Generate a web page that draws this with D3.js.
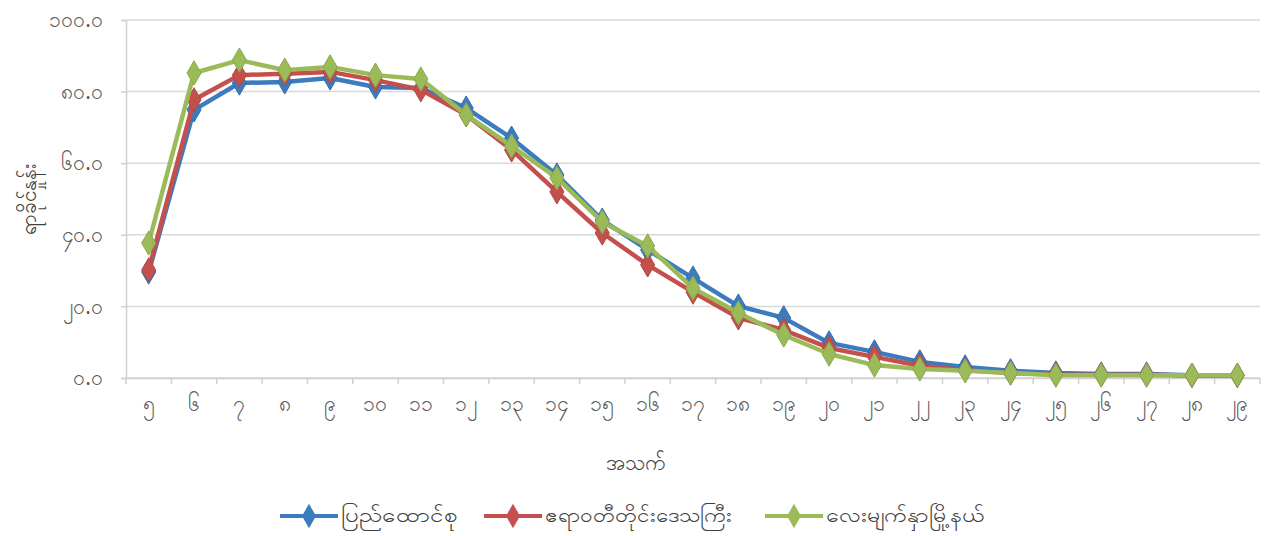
<!DOCTYPE html>
<html><head><meta charset="utf-8">
<script src="https://cdn.jsdelivr.net/npm/d3@7"></script>
<style>body{margin:0;background:#fff;} text{font-family:"Noto Sans","DejaVu Sans",sans-serif;}</style>
</head><body><svg id="c" width="1268" height="536"></svg>
<script>
const categories = ["၅","၆","၇","၈","၉","၁၀","၁၁","၁၂","၁၃","၁၄","၁၅","၁၆","၁၇","၁၈","၁၉","၂၀","၂၁","၂၂","၂၃","၂၄","၂၅","၂၆","၂၇","၂၈","၂၉"];
const seriesNames = ["ပြည်ထောင်စု","ဧရာဝတီတိုင်းဒေသကြီး","လေးမျက်နှာမြို့နယ်"];
const unionValues = [29.6,74.9,82.4,82.7,83.8,81.3,81.0,75.4,67.0,56.7,44.1,35.8,27.9,20.1,16.8,9.8,7.3,4.5,3.1,2.0,1.4,1.1,1.1,0.8,0.8];
const ayeyarwadyValues = [30.2,77.7,84.6,85.0,85.5,83.2,80.5,73.5,63.7,52.0,40.5,31.6,24.0,16.8,13.4,8.4,5.9,3.4,2.2,1.4,1.0,0.9,0.9,0.7,0.7];
const lemyethnaValues = [37.7,85.2,88.8,86.0,86.9,84.6,83.5,73.5,64.8,55.9,43.6,36.9,25.1,18.2,12.0,6.7,3.6,2.5,2.0,1.4,0.8,0.8,0.8,0.8,0.8];
const yTickValues = [0,20,40,60,80,100];
const yTickLabels = ["၀.၀","၂၀.၀","၄၀.၀","၆၀.၀","၈၀.၀","၁၀၀.၀"];
const xTitle = "အသက်";
const yTitle = "ရာခိုင်နှုန်း";
const colors = ["#3B7BBE","#C4504D","#9BBB59"];

const svg = d3.select("#c");
const m = {l:126, r:8, t:20, b:158};
const W = 1268, H = 536;
const x = d3.scaleBand().domain(categories).range([m.l, W - m.r]);
const y = d3.scaleLinear().domain([0,100]).range([H - m.b, m.t]);

// gridlines
svg.append("g").selectAll("line").data(yTickValues).join("line")
  .attr("x1", m.l).attr("x2", W - m.r)
  .attr("y1", d => y(d)).attr("y2", d => y(d))
  .attr("stroke", "#d9d9d9").attr("stroke-width", 1.5);

// y axis
const yAxis = d3.axisLeft(y).tickValues(yTickValues).tickSize(5).tickPadding(18)
  .tickFormat((d,i) => yTickLabels[i]);
const gy = svg.append("g").attr("transform", `translate(${m.l},0)`).call(yAxis);
gy.select(".domain").attr("stroke", "#d0d0d0").attr("stroke-width",1.5);
gy.selectAll(".tick line").attr("stroke", "#d0d0d0").attr("stroke-width",1.5);
gy.selectAll(".tick text").attr("fill", "#595959").style("font-size", "21px");

// x axis
const gx = svg.append("g").attr("transform", `translate(0,${y(0)})`)
  .call(d3.axisBottom(x).tickSize(0).tickPadding(18));
gx.select(".domain").attr("stroke", "#d0d0d0").attr("stroke-width",1.5);
gx.selectAll(".tick text").attr("fill", "#595959").style("font-size", "21px");
// tick marks between categories
const bounds = categories.map(c => x(c)).concat([x(categories[categories.length-1]) + x.bandwidth()]);
svg.append("g").selectAll("line").data(bounds).join("line")
  .attr("x1", d => d).attr("x2", d => d)
  .attr("y1", y(0)).attr("y2", y(0) + 6)
  .attr("stroke", "#d0d0d0").attr("stroke-width", 1.5);

// titles
svg.append("text").attr("x", 636).attr("y", 470)
  .attr("text-anchor","middle").attr("fill","#404040").style("font-size","21px").text(xTitle);
svg.append("text").attr("transform", `translate(36,${(m.t + H - m.b)/2}) rotate(-90)`)
  .attr("text-anchor","middle").attr("fill","#404040").style("font-size","21px").text(yTitle);

// series
const allSeries = [unionValues, ayeyarwadyValues, lemyethnaValues];
const line = d3.line().x((d,i) => x(categories[i]) + x.bandwidth()/2).y(d => y(d));
const diamond = d3.symbol().type(d3.symbolDiamond).size(170);
allSeries.forEach((vals, si) => {
  const g = svg.append("g");
  g.append("path").datum(vals).attr("d", line).attr("fill","none")
    .attr("stroke", colors[si]).attr("stroke-width", 4.5).attr("stroke-linejoin","round");
  g.selectAll("path.pt").data(vals).join("path").attr("class","pt")
    .attr("d", diamond)
    .attr("transform", (d,i) => `translate(${x(categories[i]) + x.bandwidth()/2},${y(d)})`)
    .attr("fill", colors[si]).attr("stroke", d3.color(colors[si]).darker(0.3)).attr("stroke-width",1);
});

// legend
const legend = svg.append("g").attr("transform", "translate(0,516)");
const itemX = [280, 484, 765];
const textW = [117, 187, 159];
seriesNames.forEach((name, i) => {
  const g = legend.append("g").attr("transform", `translate(${itemX[i]},0)`);
  g.append("line").attr("x1",0).attr("x2",58).attr("y1",0).attr("y2",0)
    .attr("stroke", colors[i]).attr("stroke-width",4);
  g.append("path").attr("d", diamond).attr("transform","translate(29,0)").attr("fill", colors[i]);
  g.append("text").attr("x", 61).attr("y", 6).attr("fill","#404040").style("font-size","19px")
    .attr("textLength", textW[i]).attr("lengthAdjust","spacingAndGlyphs").text(name);
});
</script></body></html>
